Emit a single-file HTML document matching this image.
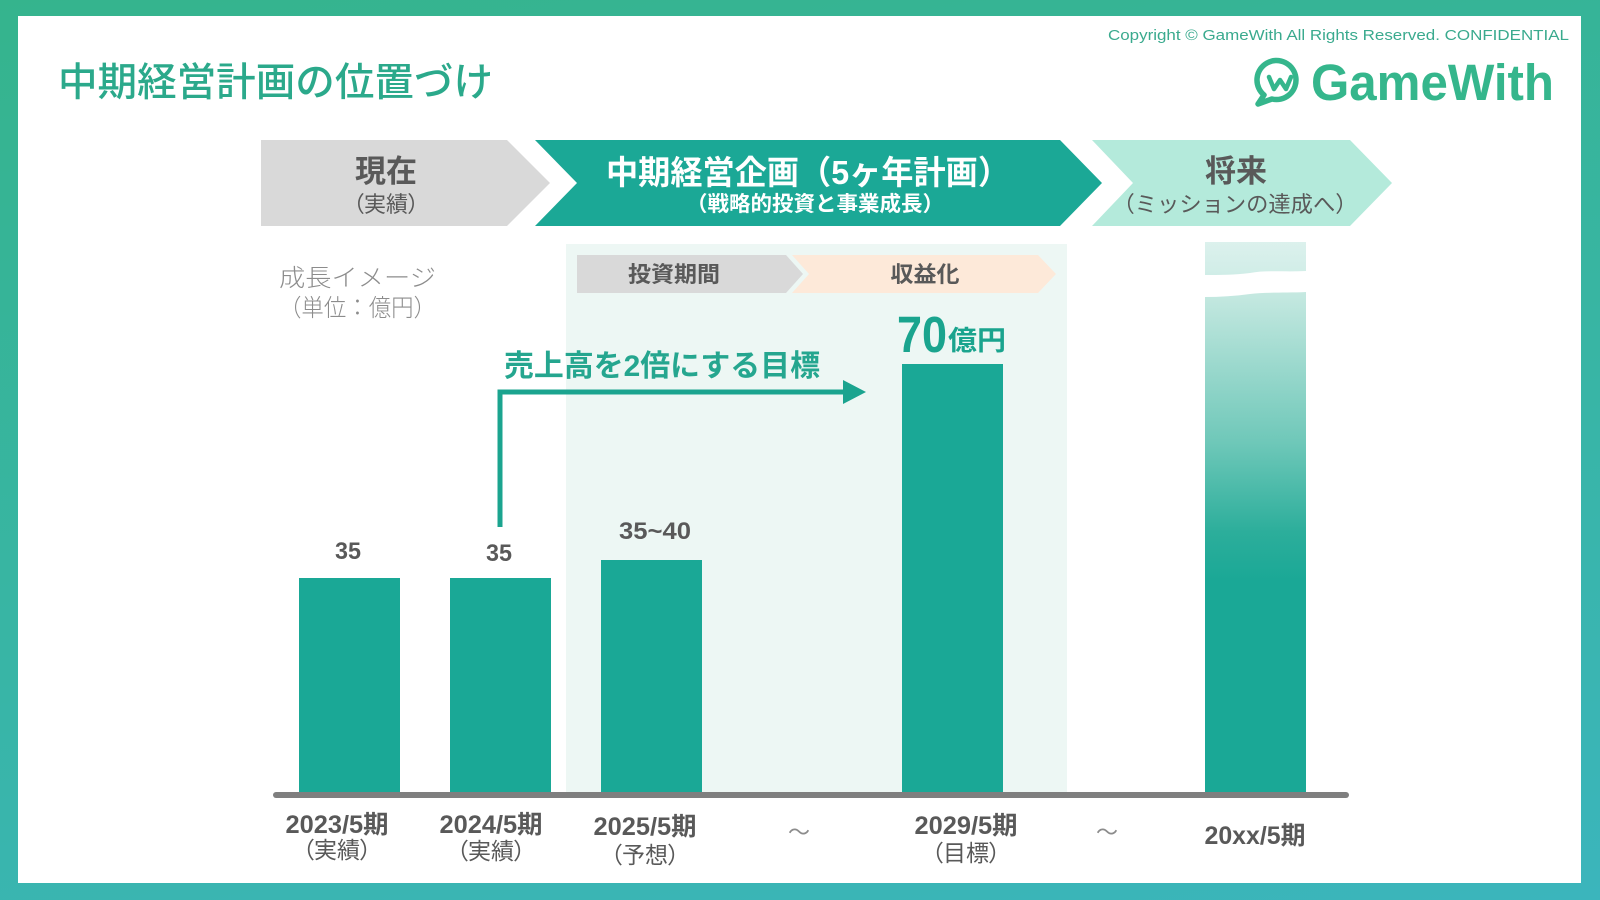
<!DOCTYPE html>
<html><head><meta charset="utf-8">
<style>
html,body{margin:0;padding:0;width:1600px;height:900px;overflow:hidden;}
body{background:linear-gradient(170deg,#35b48d 0%,#38b5a5 55%,#3bb5bc 100%);}
svg{position:absolute;left:0;top:0;}
text{font-family:"Liberation Sans","Noto Sans CJK JP",sans-serif;}
.p{font-feature-settings:"palt";}
</style></head>
<body>
<svg width="1600" height="900" viewBox="0 0 1600 900" xmlns="http://www.w3.org/2000/svg">
  <defs>
    <linearGradient id="gbar" x1="0" y1="0" x2="0" y2="1">
      <stop offset="0" stop-color="#c6e9e1"/>
      <stop offset="0.3" stop-color="#6fc8b9"/>
      <stop offset="0.48" stop-color="#2cae9b"/>
      <stop offset="0.58" stop-color="#1aa896"/>
      <stop offset="1" stop-color="#1aa896"/>
    </linearGradient>
    <linearGradient id="gtop" x1="0" y1="0" x2="0" y2="1">
      <stop offset="0" stop-color="#dcf1ed"/>
      <stop offset="1" stop-color="#d0ede7"/>
    </linearGradient>
  </defs>

  <!-- white page -->
  <rect x="18" y="16" width="1563" height="867" fill="#ffffff"/>

  <!-- title -->
  <text x="58" y="96" font-size="39.5" font-weight="500" fill="#2ba98b" textLength="435" lengthAdjust="spacingAndGlyphs">中期経営計画の位置づけ</text>

  <!-- copyright -->
  <text x="1108" y="40" font-size="15" fill="#3aaa8e" textLength="461" lengthAdjust="spacingAndGlyphs">Copyright © GameWith  All Rights Reserved. CONFIDENTIAL</text>

  <!-- logo -->
  <g fill="none" stroke="#35b68c" stroke-width="5.5" stroke-linecap="round" stroke-linejoin="round">
    <path d="M1264,95 A19.5,19.5 0 1 1 1272,99 L1258,104 Z"/>
    <polyline points="1269,77 1274,89 1280,80 1286,89 1291,77" stroke-width="4.5"/>
  </g>
  <text x="1311" y="100" font-size="51" font-weight="bold" fill="#35b68c" textLength="243" lengthAdjust="spacingAndGlyphs">GameWith</text>

  <!-- header chevrons -->
  <polygon points="261,140 507,140 550,183 507,226 261,226" fill="#d9d9d9"/>
  <polygon points="535,140 1060,140 1102,183 1060,226 535,226 577,183" fill="#1ba896"/>
  <polygon points="1092,140 1350,140 1392,183 1350,226 1092,226 1133,183" fill="#b4eadb"/>

  <text x="386" y="182" font-size="31" font-weight="bold" fill="#595959" text-anchor="middle">現在</text>
  <text class="p" x="386" y="212" font-size="22" fill="#595959" text-anchor="middle">（実績）</text>

  <text x="808" y="184" font-size="33" font-weight="bold" fill="#ffffff" text-anchor="middle" textLength="404" lengthAdjust="spacingAndGlyphs">中期経営企画（5ヶ年計画）</text>
  <text x="815" y="211" font-size="21" font-weight="bold" fill="#ffffff" text-anchor="middle" textLength="258" lengthAdjust="spacingAndGlyphs">（戦略的投資と事業成長）</text>

  <text x="1236" y="182" font-size="31" font-weight="bold" fill="#595959" text-anchor="middle">将来</text>
  <text x="1235" y="212" font-size="22" fill="#595959" text-anchor="middle" textLength="245" lengthAdjust="spacingAndGlyphs">（ミッションの達成へ）</text>

  <!-- left note -->
  <text x="279" y="286" font-size="24" font-weight="300" fill="#8c8c8c" textLength="157" lengthAdjust="spacingAndGlyphs">成長イメージ</text>
  <text x="279" y="316" font-size="24" font-weight="300" fill="#8c8c8c" textLength="157" lengthAdjust="spacingAndGlyphs">（単位：億円）</text>

  <!-- plan panel -->
  <rect x="566" y="244" width="501" height="548" fill="#edf7f4"/>
  <polygon points="577,255 786,255 803,274 786,293 577,293" fill="#d9d9d9"/>
  <polygon points="792,255 1038,255 1056,274 1038,293 792,293 809,274" fill="#fde9d9"/>
  <text x="674" y="282" font-size="22" font-weight="bold" fill="#595959" text-anchor="middle" textLength="92" lengthAdjust="spacingAndGlyphs">投資期間</text>
  <text x="925" y="282" font-size="22" font-weight="bold" fill="#595959" text-anchor="middle" textLength="69" lengthAdjust="spacingAndGlyphs">収益化</text>

  <!-- arrow -->
  <text x="504" y="376" font-size="30" font-weight="bold" fill="#25a68f" textLength="316" lengthAdjust="spacingAndGlyphs">売上高を2倍にする目標</text>
  <polyline points="500,527 500,392 846,392" fill="none" stroke="#1ba48f" stroke-width="5"/>
  <polygon points="843,380 866,392 843,404" fill="#1ba48f"/>

  <!-- bars -->
  <rect x="299" y="578" width="101" height="214" fill="#1aa896"/>
  <rect x="450" y="578" width="101" height="214" fill="#1aa896"/>
  <rect x="601" y="560" width="101" height="232" fill="#1aa896"/>
  <rect x="902" y="364" width="101" height="428" fill="#1aa896"/>
  <path d="M1205,242 L1306,242 L1306,271 C1285,272 1265,270 1250,273 C1235,275 1220,275 1205,275 Z" fill="url(#gtop)"/>
  <path d="M1205,297 C1220,297 1235,296 1250,294 C1265,292 1285,293 1306,292 L1306,792 L1205,792 Z" fill="url(#gbar)"/>

  <!-- value labels -->
  <text x="348" y="559" font-size="24" font-weight="bold" fill="#595959" text-anchor="middle" textLength="26" lengthAdjust="spacingAndGlyphs">35</text>
  <text x="499" y="561" font-size="24" font-weight="bold" fill="#595959" text-anchor="middle" textLength="26" lengthAdjust="spacingAndGlyphs">35</text>
  <text x="655" y="539" font-size="24" font-weight="bold" fill="#595959" text-anchor="middle" textLength="72" lengthAdjust="spacingAndGlyphs">35~40</text>
  <text x="897" y="352" font-size="51" font-weight="bold" fill="#1aa48e" textLength="50" lengthAdjust="spacingAndGlyphs">70</text>
  <text x="948" y="350" font-size="27" font-weight="bold" fill="#1aa48e" textLength="58" lengthAdjust="spacingAndGlyphs">億円</text>

  <!-- axis -->
  <line x1="276" y1="795" x2="1346" y2="795" stroke="#7f7f7f" stroke-width="6" stroke-linecap="round"/>

  <!-- x labels -->
  <g font-size="25" font-weight="bold" fill="#595959" text-anchor="middle">
    <text x="337" y="833" textLength="103" lengthAdjust="spacingAndGlyphs">2023/5期</text>
    <text x="491" y="833" textLength="103" lengthAdjust="spacingAndGlyphs">2024/5期</text>
    <text x="645" y="835" textLength="103" lengthAdjust="spacingAndGlyphs">2025/5期</text>
    <text x="966" y="834" textLength="103" lengthAdjust="spacingAndGlyphs">2029/5期</text>
    <text x="1255" y="844" textLength="101" lengthAdjust="spacingAndGlyphs">20xx/5期</text>
  </g>
  <g class="p" font-size="23" fill="#595959" text-anchor="middle">
    <text x="337" y="858">（実績）</text>
    <text x="491" y="859">（実績）</text>
    <text x="645" y="863">（予想）</text>
    <text x="966" y="861">（目標）</text>
  </g>
  <text x="799" y="840" font-size="22" fill="#8c8c8c" text-anchor="middle">～</text>
  <text x="1107" y="840" font-size="22" fill="#8c8c8c" text-anchor="middle">～</text>
</svg>
</body></html>
